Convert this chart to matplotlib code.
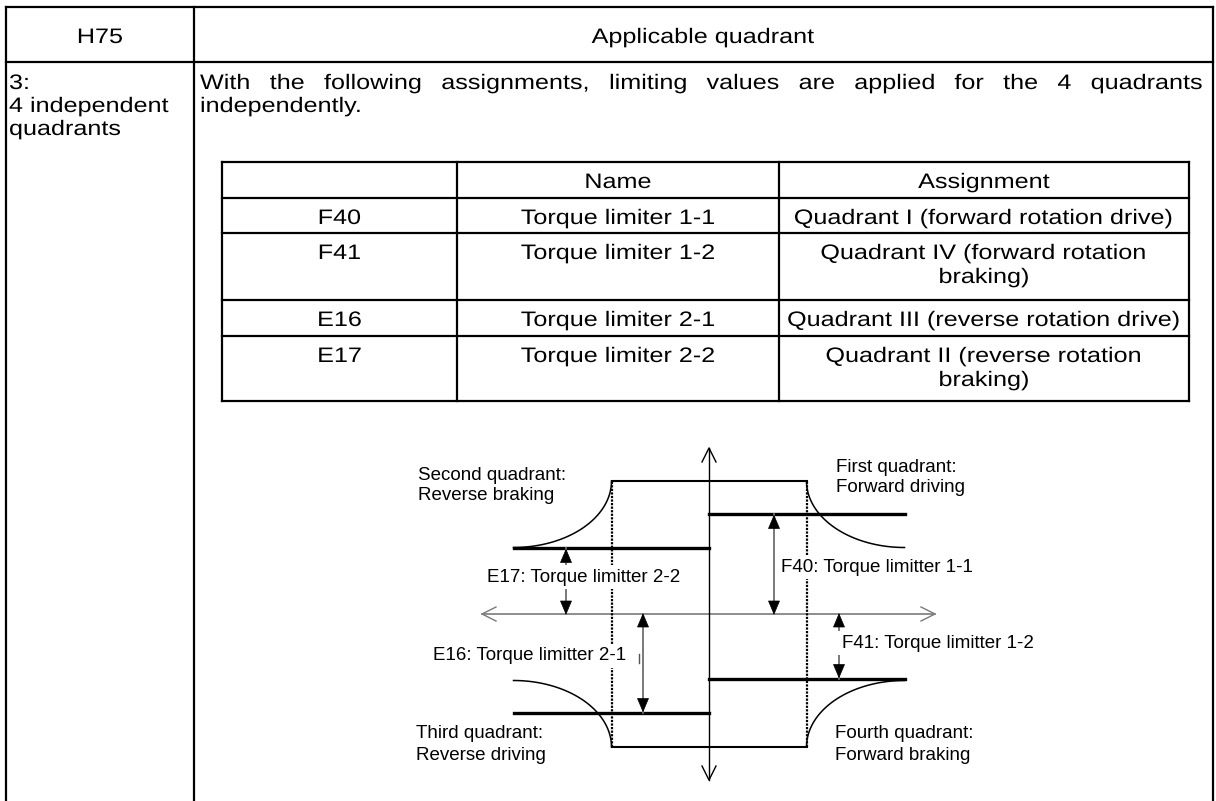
import numpy as np
import matplotlib
matplotlib.use('Agg')
from matplotlib import pyplot as plt
from matplotlib.patches import Polygon
from matplotlib.patheffects import AbstractPathEffect
from matplotlib.transforms import Affine2D

plt.rcParams['font.family'] = ['Liberation Sans', 'DejaVu Sans']

# ---- table content ----
header = ['H75', 'Applicable quadrant']
setting = ['3:', '4 independent', 'quadrants']
intro = ['With the following assignments, limiting values are applied for the 4 quadrants',
         'independently.']
col_heads = ['', 'Name', 'Assignment']
codes = ['F40', 'F41', 'E16', 'E17']
names = ['Torque limiter 1-1', 'Torque limiter 1-2', 'Torque limiter 2-1', 'Torque limiter 2-2']
assign = [['Quadrant I (forward rotation drive)'],
          ['Quadrant IV (forward rotation', 'braking)'],
          ['Quadrant III (reverse rotation drive)'],
          ['Quadrant II (reverse rotation', 'braking)']]

# ---- diagram values (speed / torque, drawing units) ----
t_max = 133      # max torque (rectangle)
n_base = 97.5    # base speed
n_top = 195.5    # top speed
t_end = 66.5     # torque at top speed
limits = {'F40': 100, 'F41': -65, 'E16': -99, 'E17': 66}
arrow_x = {'F40': 65, 'F41': 130, 'E16': -66, 'E17': -143}
quad_labels = [(['Second quadrant:', 'Reverse braking'], -291, 134.5),
               (['First quadrant:', 'Forward driving'], 127, 142.5),
               (['Third quadrant:', 'Reverse driving'], -293, -124.5),
               (['Fourth quadrant:', 'Forward braking'], 126, -124.5)]
limit_labels = [('F40: Torque limitter 1-1', 72, 42.5),
                ('F41: Torque limitter 1-2', 133, -33.5),
                ('E16: Torque limitter 2-1', -276, -46.5),
                ('E17: Torque limitter 2-2', -222, 32.5)]

W, H = 1216, 801
fig = plt.figure(figsize=(W / 100, H / 100), dpi=100)
ax = fig.add_axes([0, 0, 1, 1])
ax.set_xlim(0, W)
ax.set_ylim(H, 0)
ax.axis('off')

big = 15.1
small = 13.5
LW = 1.6
SX = 1.2   # table text is set wider than normal


class Stretch(AbstractPathEffect):
    def __init__(self, cx, sx):
        super().__init__()
        self.cx = cx
        self.sx = sx

    def draw_path(self, renderer, gc, tpath, affine, rgbFace=None):
        t = affine + Affine2D().translate(-self.cx, 0).scale(self.sx, 1).translate(self.cx, 0)
        renderer.draw_path(gc, tpath, t, rgbFace)


def wtext(x, y, s, ha='center'):
    cx = ax.transData.transform((x, y))[0]
    return ax.text(x, y, s, fontsize=big, ha=ha, va='baseline',
                   path_effects=[Stretch(cx, SX)])


# outer table
ax.plot([6, 1213], [7, 7], color='k', lw=LW)
ax.plot([6, 1213], [62, 62], color='k', lw=LW)
for x in [6, 194, 1213]:
    ax.plot([x, x], [7, H], color='k', lw=LW)

wtext(100, 43, header[0])
wtext(703, 43, header[1])
for i, s in enumerate(setting):
    wtext(9, 89 + 23 * i, s, ha='left')

# justified intro line
r = fig.canvas.get_renderer()
words = intro[0].split(' ')
ws = []
for w in words:
    t = ax.text(0, 0, w, fontsize=big)
    ws.append(t.get_window_extent(renderer=r).width * SX)
    t.remove()
gap = (1203 - 200 - sum(ws)) / (len(words) - 1)
x = 200
for w, wd in zip(words, ws):
    wtext(x, 89, w, ha='left')
    x += wd + gap
wtext(200, 112, intro[1], ha='left')

# inner table
rows = [162, 198, 233, 300, 336, 401]
cols = [222, 457, 779, 1189]
for y in rows:
    ax.plot([cols[0], cols[-1]], [y, y], color='k', lw=LW)
for c in cols:
    ax.plot([c, c], [rows[0], rows[-1]], color='k', lw=LW)
centers = [(cols[i] + cols[i + 1]) / 2 for i in range(3)]
for j, s in enumerate(col_heads):
    if s:
        wtext(centers[j], rows[0] + 26, s)
for i in range(4):
    base = rows[i + 1] + 26
    wtext(centers[0], base, codes[i])
    wtext(centers[1], base, names[i])
    for k, s in enumerate(assign[i]):
        wtext(centers[2], base + 24 * k, s)

# ---- diagram ----
d = fig.add_axes([459 / W, 7 / H, 500 / W, 360 / H])
d.set_xlim(-250, 250)
d.set_ylim(-180, 180)
d.axis('off')


def head(x, y, dx, dy, L=13, hw=5.5):
    px, py = -dy, dx
    d.add_patch(Polygon([(x, y), (x - dx * L + px * hw, y - dy * L + py * hw),
                         (x - dx * L - px * hw, y - dy * L - py * hw)],
                        closed=True, fc='k', ec='k', lw=0.5, zorder=5))


def vhead(x, y, dx, dy, L=14, hw=7, color='k'):
    px, py = -dy, dx
    d.plot([x - dx * L + px * hw, x, x - dx * L - px * hw],
           [y - dy * L + py * hw, y, y - dy * L - py * hw], color=color, lw=1.0)


# axes
d.plot([-227, 226], [0, 0], color='#7a7a7a', lw=1.2)
vhead(-227, 0, -1, 0, color='#7a7a7a')
vhead(226, 0, 1, 0, color='#7a7a7a')
d.plot([0, 0], [-166, 166], color='k', lw=1.0)
vhead(0, 166, 0, 1)
vhead(0, -166, 0, -1)

# max torque rectangle and curves
d.plot([-n_base, n_base], [t_max, t_max], color='k', lw=1.5)
d.plot([-n_base, n_base], [-t_max, -t_max], color='k', lw=1.5)
for sx in [-1, 1]:
    d.plot([sx * n_base, sx * n_base], [-t_max, t_max], color='k', lw=1.6,
           linestyle=(0, (1, 0.6)))
th = np.linspace(0, np.pi / 2, 60)
a = n_top - n_base
b = t_max - t_end
for sx in [-1, 1]:
    for sy in [-1, 1]:
        d.plot(sx * (n_top - a * np.cos(th)), sy * (t_max - b * np.sin(th)), color='k', lw=1.1)

# limit levels
for k, v in limits.items():
    if k.startswith('F'):
        d.plot([0, n_top], [v, v], color='k', lw=2.4)
    else:
        d.plot([-n_top, 0], [v, v], color='k', lw=2.4)
    xa = arrow_x[k]
    d.plot([xa, xa], [0, v], color='#6e6e6e', lw=1.3)
    sgn = 1 if v > 0 else -1
    head(xa, v - sgn * 1.5, 0, sgn)
    head(xa, 0, 0, -sgn)

# small stray marks
d.plot([-70, -70], [-40, -49], color='#555555', lw=1.0)
d.plot([-296, -296], [-118, -130], color='#999999', lw=0.8, linestyle=(0, (1, 2)))

for lines, x, y in quad_labels:
    for i, s in enumerate(lines):
        d.text(x, y - 21 * i, s, fontsize=small, ha='left', va='baseline')
for s, x, y in limit_labels:
    d.text(x, y, s, fontsize=small, ha='left', va='baseline', zorder=4,
           bbox=dict(boxstyle='square,pad=0.2', fc='white', ec='none'))

fig.savefig('out.png', dpi=100)
